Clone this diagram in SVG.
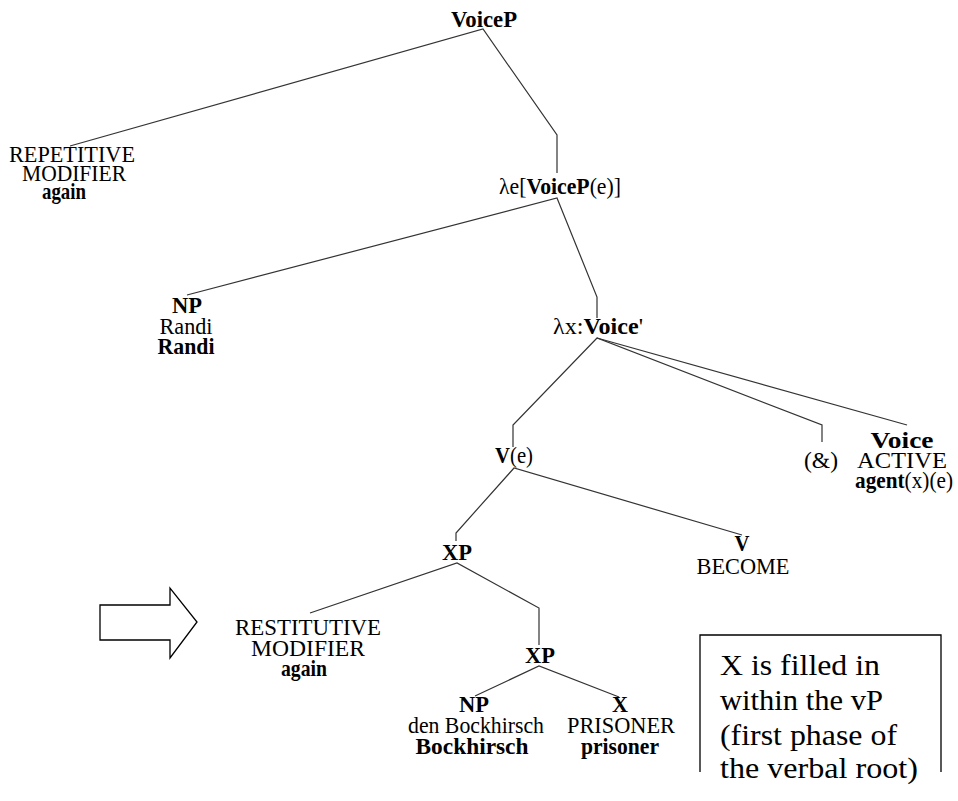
<svg xmlns="http://www.w3.org/2000/svg" width="958" height="801" viewBox="0 0 958 801">
<style>
text{fill:#000;text-anchor:middle}
.b{font-weight:bold}
.box{text-anchor:start}
.edge{fill:none;stroke:#333;stroke-width:1.2}
</style>
<rect width="958" height="801" fill="#fff"/>
<g id="connectors">
<polyline class="edge" points="70,146 483,29 557,135 557,173"/>
<polyline class="edge" points="187,295 557,198 597,297 597,318"/>
<polyline class="edge" points="513,447 513,425 597,338 822,425 822,442"/>
<polyline class="edge" points="597,338 907,425"/>
<polyline class="edge" points="456,541 456,533 514,468 742,535"/>
<polyline class="edge" points="310,613 457,563 539,608 539,645"/>
<polyline class="edge" points="475,696 539,666 619,697"/>
</g>
<g font-family="Liberation Serif" font-size="23">
<g id="n-voicep"><text class="b" x="484" y="27" textLength="66" lengthAdjust="spacingAndGlyphs">VoiceP</text></g>
<g id="n-repetitive">
<text x="72" y="162" textLength="126" lengthAdjust="spacingAndGlyphs">REPETITIVE</text>
<text x="74" y="181" textLength="104" lengthAdjust="spacingAndGlyphs">MODIFIER</text>
<text class="b" x="64" y="199" textLength="44" lengthAdjust="spacingAndGlyphs">again</text>
</g>
<g id="n-lambda-e"><text x="560" y="194" textLength="122" lengthAdjust="spacingAndGlyphs">λe[<tspan class="b">VoiceP</tspan>(e)]</text></g>
<g id="n-np-randi">
<text class="b" x="187" y="313" textLength="30" lengthAdjust="spacingAndGlyphs">NP</text>
<text x="186" y="334" textLength="53" lengthAdjust="spacingAndGlyphs">Randi</text>
<text class="b" x="186" y="354" textLength="57" lengthAdjust="spacingAndGlyphs">Randi</text>
</g>
<g id="n-lambda-x"><text x="598" y="334" textLength="90" lengthAdjust="spacingAndGlyphs">λx:<tspan class="b">Voice</tspan>'</text></g>
<g id="n-ve"><text x="514" y="463" textLength="38" lengthAdjust="spacingAndGlyphs"><tspan class="b">V</tspan>(e)</text></g>
<g id="n-amp"><text x="821" y="468" textLength="34" lengthAdjust="spacingAndGlyphs">(&amp;)</text></g>
<g id="n-voice">
<text class="b" x="902" y="448" textLength="63" lengthAdjust="spacingAndGlyphs">Voice</text>
<text x="902" y="468" textLength="90" lengthAdjust="spacingAndGlyphs">ACTIVE</text>
<text x="904" y="488" textLength="98" lengthAdjust="spacingAndGlyphs"><tspan class="b">agent</tspan>(x)(e)</text>
</g>
<g id="n-xp1"><text class="b" x="457" y="560" textLength="30" lengthAdjust="spacingAndGlyphs">XP</text></g>
<g id="n-v">
<text class="b" x="742" y="551" textLength="15" lengthAdjust="spacingAndGlyphs">V</text>
<text x="743" y="574" textLength="93" lengthAdjust="spacingAndGlyphs">BECOME</text>
</g>
<g id="n-restitutive">
<text x="308" y="635" textLength="146" lengthAdjust="spacingAndGlyphs">RESTITUTIVE</text>
<text x="308" y="656" textLength="114" lengthAdjust="spacingAndGlyphs">MODIFIER</text>
<text class="b" x="304" y="676" textLength="46" lengthAdjust="spacingAndGlyphs">again</text>
</g>
<g id="n-xp2"><text class="b" x="540" y="663" textLength="30" lengthAdjust="spacingAndGlyphs">XP</text></g>
<g id="n-np-bock">
<text class="b" x="474" y="712" textLength="30" lengthAdjust="spacingAndGlyphs">NP</text>
<text x="476" y="733" textLength="136" lengthAdjust="spacingAndGlyphs">den Bockhirsch</text>
<text class="b" x="472" y="754" textLength="113" lengthAdjust="spacingAndGlyphs">Bockhirsch</text>
</g>
<g id="n-x">
<text class="b" x="620" y="712" textLength="16" lengthAdjust="spacingAndGlyphs">X</text>
<text x="621" y="733" textLength="108" lengthAdjust="spacingAndGlyphs">PRISONER</text>
<text class="b" x="620" y="754" textLength="78" lengthAdjust="spacingAndGlyphs">prisoner</text>
</g>
</g>
<g id="arrow"><path d="M100,605 L170,605 L170,588 L197,622 L170,658 L170,640 L100,640 Z" fill="#fff" stroke="#000" stroke-width="1.3"/></g>
<g id="note" font-family="Liberation Serif" font-size="29">
<path d="M700,772 V635 H941 V772" fill="none" stroke="#000" stroke-width="1.3"/>
<text class="box" x="720" y="675" textLength="160" lengthAdjust="spacingAndGlyphs">X is filled in</text>
<text class="box" x="720" y="710" textLength="163" lengthAdjust="spacingAndGlyphs">within the vP</text>
<text class="box" x="720" y="745" textLength="177" lengthAdjust="spacingAndGlyphs">(first phase of</text>
<text class="box" x="720" y="778" textLength="198" lengthAdjust="spacingAndGlyphs">the verbal root)</text>
</g>
</svg>
